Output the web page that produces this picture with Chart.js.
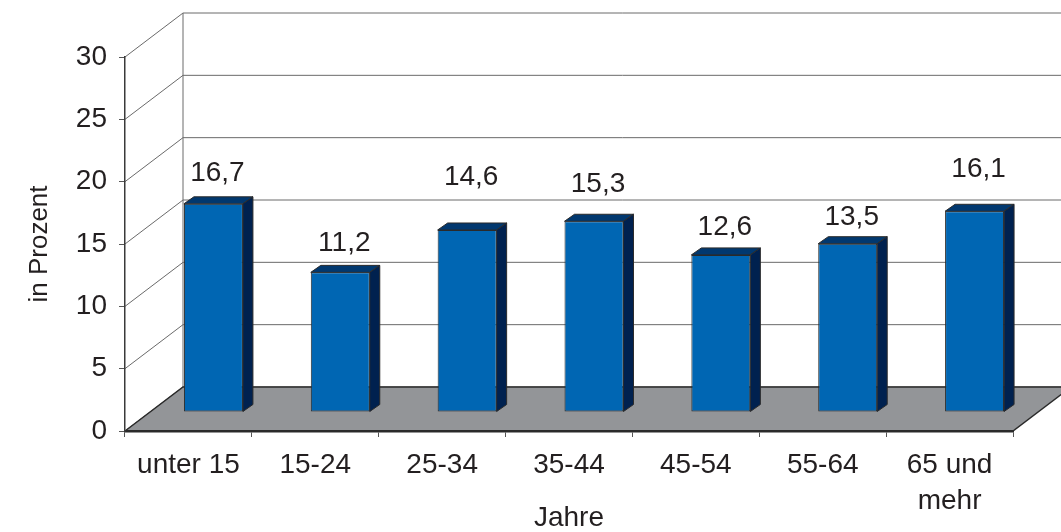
<!DOCTYPE html>
<html>
<head>
<meta charset="utf-8">
<title>Bevölkerung nach Alter</title>
<script src="https://cdn.jsdelivr.net/npm/chart.js"></script>
<style>
  body { margin: 0; background: #fff; }
  #box { position: relative; width: 1061px; height: 532px; }
</style>
</head>
<body>
<div id="box"><canvas id="ageChart"></canvas></div>
<script>
// Anteile je Altersgruppe, in Prozent
const categories = ['unter 15', '15-24', '25-34', '35-44', '45-54', '55-64', ['65 und', 'mehr']];
const shares = [16.7, 11.2, 14.6, 15.3, 12.6, 13.5, 16.1];
const yTicks = [0, 5, 10, 15, 20, 25, 30];

// value labels sit a little above each bar (px), not all at the same height
const labelLift = [31, 29, 53, 37, 28, 26, 42];

// oblique 3D look: depth of the walls, where the bars stand, depth of a bar
const WALL = { dx: 58, dy: -44 };
const BAR_SHIFT = { dx: 25, dy: -19 };
const BAR_DEPTH = { dx: 10, dy: -7 };

const TEXT = '#231f20';
const FONT = "'Liberation Sans', Arial, Helvetica, sans-serif";

const frame3d = {
    id: 'frame3d',
    beforeDraw(chart) {
        const { ctx, chartArea: a } = chart;
        const y = chart.scales.y;
        const bx = a.left + WALL.dx, br = a.right + WALL.dx;
        const y0 = y.getPixelForValue(0);
        ctx.save();
        ctx.fillStyle = '#fff';
        ctx.fillRect(0, 0, chart.width, chart.height);

        // side wall diagonals + back wall grid
        ctx.lineWidth = 1;
        ctx.strokeStyle = '#6a6a6a';
        yTicks.forEach(v => {
            const py = y.getPixelForValue(v);
            ctx.beginPath();
            ctx.moveTo(a.left, py);
            ctx.lineTo(bx, py + WALL.dy);
            ctx.lineTo(br, py + WALL.dy);
            ctx.stroke();
        });
        ctx.beginPath();
        ctx.moveTo(bx, y.getPixelForValue(yTicks[yTicks.length - 1]) + WALL.dy);
        ctx.lineTo(bx, y0 + WALL.dy);
        ctx.stroke();

        // floor
        ctx.beginPath();
        ctx.moveTo(a.left, y0);
        ctx.lineTo(bx, y0 + WALL.dy);
        ctx.lineTo(br, y0 + WALL.dy);
        ctx.lineTo(a.right, y0);
        ctx.closePath();
        ctx.fillStyle = '#939598';
        ctx.fill();
        ctx.strokeStyle = '#2a2a2a';
        ctx.lineWidth = 1.5;
        ctx.stroke();
        ctx.restore();
    },
    beforeDatasetsDraw(chart) {
        chart.ctx.save();
        chart.ctx.translate(BAR_SHIFT.dx, BAR_SHIFT.dy);
    },
    afterDatasetsDraw(chart) {
        const ctx = chart.ctx;
        const bars = chart.getDatasetMeta(0).data;
        ctx.lineWidth = 1;
        ctx.strokeStyle = '#2b2b2b';
        bars.forEach(b => {
            const { x, y, base, width } = b.getProps(['x', 'y', 'base', 'width'], true);
            const l = x - width / 2, r = x + width / 2;
            // top face
            ctx.beginPath();
            ctx.moveTo(l, y);
            ctx.lineTo(l + BAR_DEPTH.dx, y + BAR_DEPTH.dy);
            ctx.lineTo(r + BAR_DEPTH.dx, y + BAR_DEPTH.dy);
            ctx.lineTo(r, y);
            ctx.closePath();
            ctx.fillStyle = '#01386f';
            ctx.fill();
            ctx.stroke();
            // right face
            ctx.beginPath();
            ctx.moveTo(r, y);
            ctx.lineTo(r + BAR_DEPTH.dx, y + BAR_DEPTH.dy);
            ctx.lineTo(r + BAR_DEPTH.dx, base + BAR_DEPTH.dy);
            ctx.lineTo(r, base);
            ctx.closePath();
            ctx.fillStyle = '#00214f';
            ctx.fill();
            ctx.stroke();
        });
        ctx.restore();

        // value labels
        ctx.save();
        ctx.font = '28px ' + FONT;
        ctx.fillStyle = TEXT;
        ctx.textAlign = 'center';
        ctx.textBaseline = 'middle';
        bars.forEach((b, i) => {
            const txt = shares[i].toFixed(1).replace('.', ',');
            ctx.fillText(txt, b.x + BAR_SHIFT.dx + 4, b.y + BAR_SHIFT.dy - labelLift[i]);
        });
        ctx.restore();
    }
};

Chart.defaults.font.family = FONT;
Chart.defaults.font.size = 28;
Chart.defaults.color = TEXT;

new Chart(document.getElementById('ageChart').getContext('2d'), {
    type: 'bar',
    data: {
        labels: categories,
        datasets: [{
            data: shares,
            backgroundColor: '#0066b3',
            borderColor: '#2b2b2b',
            borderWidth: 1,
            borderSkipped: false,
            barPercentage: 0.465,
            categoryPercentage: 1.0
        }]
    },
    options: {
        responsive: true,
        maintainAspectRatio: false,
        animation: false,
        layout: { padding: { top: 57, right: 48, left: 0, bottom: 0 } },
        plugins: { legend: { display: false }, tooltip: { enabled: false } },
        scales: {
            x: {
                offset: true,
                grid: { offset: true, drawOnChartArea: false, drawTicks: true, tickLength: 6, tickColor: '#555' },
                border: { color: '#2a2a2a', width: 2.5 },
                ticks: { padding: 10, maxRotation: 0, autoSkip: false, font: { size: 28, lineHeight: 1.3 } },
                title: { display: true, text: 'Jahre', font: { size: 28, lineHeight: 1.0 }, padding: { top: 0, bottom: 0 } },
                afterFit: s => { s.height = 101; }
            },
            y: {
                min: 0,
                max: 30,
                afterBuildTicks: s => { s.ticks = yTicks.map(v => ({ value: v })); },
                grid: { drawOnChartArea: false, drawTicks: true, tickLength: 6, tickColor: '#555' },
                border: { color: '#3a3a3a', width: 1.5 },
                ticks: { padding: 12, font: { size: 28 } },
                title: { display: true, text: 'in Prozent', font: { size: 26 }, padding: { top: 24, bottom: 0 } },
                afterFit: s => { s.width = 125; }
            }
        }
    },
    plugins: [frame3d]
});
</script>
</body>
</html>
